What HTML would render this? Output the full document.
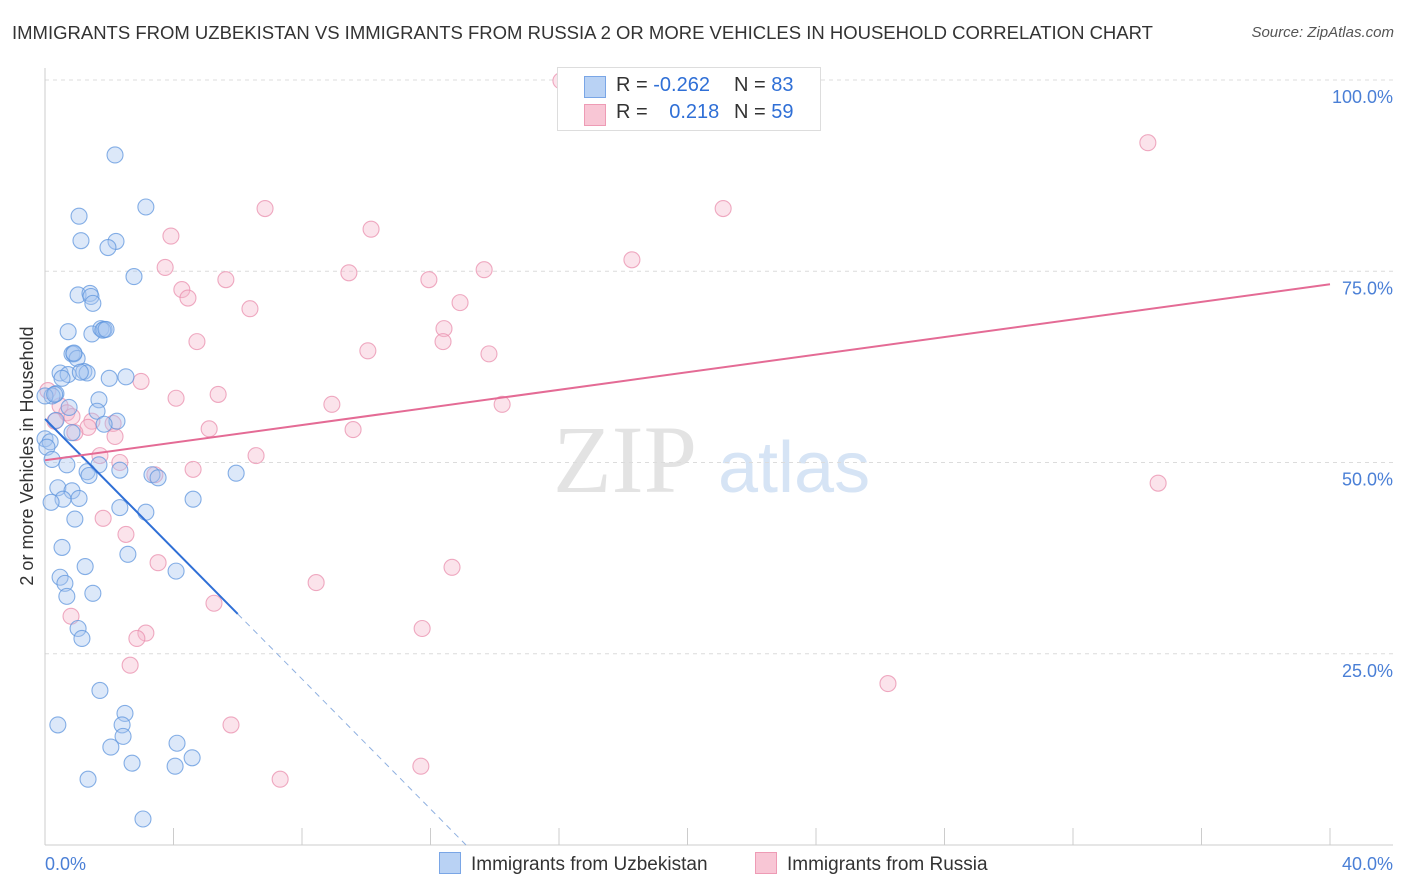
<!DOCTYPE html>
<html><head><meta charset="utf-8"><style>
body{margin:0;background:#fff;font-family:"Liberation Sans",sans-serif;}
#wrap{position:relative;width:1406px;height:892px;overflow:hidden;}
.t{position:absolute;white-space:nowrap;}
</style></head><body>
<div id="wrap">
<div class="t" style="left:12px;top:22px;font-size:18.5px;color:#333;">IMMIGRANTS FROM UZBEKISTAN VS IMMIGRANTS FROM RUSSIA 2 OR MORE VEHICLES IN HOUSEHOLD CORRELATION CHART</div>
<div class="t" style="right:12px;top:24px;font-size:15px;font-style:italic;color:#555;">Source: ZipAtlas.com</div>
<svg id="svg" width="1406" height="892" style="position:absolute;left:0;top:0"></svg>
</div>
<script>
const blueX=[2.18,3.14,1.06,1.12,2.21,1.96,2.77,1.03,1.40,1.43,1.49,0.72,1.46,1.74,1.84,0.84,0.90,1.00,1.21,1.31,0.47,0.72,0.53,2.52,0.34,0.22,0,1.68,0.75,1.62,2.24,1.84,0.34,0,0.84,0.16,0.06,0.22,0.68,1.68,1.31,2.33,1.37,3.33,3.52,5.95,0.40,0.84,1.06,0.56,4.61,0.19,2.33,3.14,0.93,0.53,2.58,1.25,0.47,4.08,0.62,0.68,1.49,1.03,1.15,1.71,0.40,2.49,2.40,2.43,2.05,4.11,4.58,2.71,4.05,1.34,3.05,1.8,1.9,0.3,0.9,1.1,2.0];
const blueY=[90.2,83.4,82.2,79.0,78.9,78.1,74.3,71.9,72.1,71.7,70.8,67.1,66.8,67.5,67.4,64.2,64.2,63.6,61.9,61.7,61.7,61.5,61.0,61.2,59.0,58.7,58.7,58.2,57.2,56.7,55.4,55.0,55.5,53.1,53.9,52.7,52.0,50.4,49.7,49.7,48.8,49.0,48.3,48.4,48.0,48.6,46.7,46.3,45.3,45.2,45.2,44.8,44.1,43.5,42.6,38.9,38.0,36.4,35.0,35.8,34.2,32.5,32.9,28.3,27.0,20.2,15.7,17.2,15.7,14.2,12.8,13.3,11.4,10.7,10.3,8.6,3.4,67.3,67.4,58.9,64.3,61.8,61.0];
const pinkX=[16.06,34.33,6.85,21.11,10.15,3.92,3.74,9.46,5.63,13.67,11.95,4.26,4.45,12.92,6.38,12.42,12.39,4.73,10.05,13.82,18.27,2.99,4.08,5.39,8.93,14.23,0.47,0.68,0.84,1.46,2.12,0.31,1.34,5.11,9.59,2.18,0.93,1.71,2.33,6.57,4.61,3.42,34.65,1.81,2.52,3.52,12.67,8.44,5.26,0.81,3.14,2.86,11.74,2.65,26.24,5.79,11.70,7.32,0.09];
const pinkY=[99.9,91.8,83.2,83.2,80.5,79.6,75.5,74.8,73.9,75.2,73.9,72.6,71.5,70.9,70.1,67.5,65.8,65.8,64.6,64.2,76.5,60.6,58.4,58.9,57.6,57.6,57.4,56.5,56.0,55.4,55.1,55.4,54.6,54.4,54.3,53.4,53.9,50.9,50.0,50.9,49.1,48.4,47.3,42.7,40.6,36.9,36.3,34.3,31.6,29.9,27.7,27.0,28.3,23.5,21.1,15.7,10.3,8.6,59.4];
const blueTrend=[55.7,-4.25]; // intercept, slope
const pinkTrend=[50.3,0.575];
const yTicks=[25,50,75,100];
const yTickLabels=["25.0%","50.0%","75.0%","100.0%"];
const xTicks=[0,4,8,12,16,20,24,28,32,36,40];

const X0=45,X1=1330,Y0=845,Y100=80;
const sx=v=>X0+(X1-X0)*v/40;
const sy=v=>Y0-(Y0-Y100)*v/100;
const svg=document.getElementById('svg');
const NS='http://www.w3.org/2000/svg';
function mk(tag,attrs,parent){const e=document.createElementNS(NS,tag);for(const k in attrs)e.setAttribute(k,attrs[k]);(parent||svg).appendChild(e);return e;}

const wm=mk('text',{x:553,y:492,'font-size':96,'font-family':'Liberation Serif,serif',fill:'#e3e3e3'});
wm.textContent='ZIP';


const wm2=mk('text',{x:718,y:492,'font-size':72,'font-family':'Liberation Sans,sans-serif',fill:'#d6e4f5'});
wm2.textContent='atlas';



yTicks.forEach((v,i)=>{
  const g=mk('line',{x1:X0,x2:1393,y1:sy(v),y2:sy(v),stroke:'#dcdcdc','stroke-dasharray':'4,4'});
  
  
  const t=mk('text',{x:1393,y:sy(v)+23,'text-anchor':'end','font-size':18,fill:'#4a7fd6'});
  t.textContent=yTickLabels[i];
  
  
});
const ax=mk('line',{x1:X0,x2:1393,y1:Y0,y2:Y0,stroke:'#ccc'});


const ay=mk('line',{x1:X0,x2:X0,y1:68,y2:Y0,stroke:'#ccc'});


xTicks.forEach(v=>{
  const l=mk('line',{x1:sx(v),x2:sx(v),y1:Y0-17,y2:Y0,stroke:'#ccc'});
  
  
});
const xl0=mk('text',{x:45,y:870,'font-size':18,fill:'#4a7fd6'});xl0.textContent='0.0%';


const xl1=mk('text',{x:1393,y:870,'font-size':18,fill:'#4a7fd6','text-anchor':'end'});xl1.textContent='40.0%';


const yt=mk('text',{x:0,y:0,'font-size':18,fill:'#333','text-anchor':'middle',transform:'translate(33,456) rotate(-90)'});
yt.textContent='2 or more Vehicles in Household';



function pts(xs,ys,fill,stroke,name){
  xs.forEach((x,i)=>{
    const c=mk('circle',{cx:sx(x),cy:sy(ys[i]),r:8,fill:fill,'fill-opacity':0.4,stroke:stroke,'stroke-width':1.1,'stroke-opacity':0.75});
    
    
  });
}
pts(pinkX,pinkY,'#f6b8cc','#ea8fae','point-russia');
pts(blueX,blueY,'#a8c6f0','#5f95de','point-uzbekistan');

const bEnd=6, bZero=-blueTrend[0]/blueTrend[1];
const bl=mk('line',{x1:sx(0),y1:sy(blueTrend[0]),x2:sx(bEnd),y2:sy(blueTrend[0]+blueTrend[1]*bEnd),stroke:'#2f6fd6','stroke-width':2});


const bd=mk('line',{x1:sx(bEnd),y1:sy(blueTrend[0]+blueTrend[1]*bEnd),x2:sx(bZero),y2:sy(0),stroke:'#8fb0e0','stroke-width':1,'stroke-dasharray':'6,5'});


const pl=mk('line',{x1:sx(0),y1:sy(pinkTrend[0]),x2:sx(40),y2:sy(pinkTrend[0]+pinkTrend[1]*40),stroke:'#e46b95','stroke-width':2});


</script>
<div class="t" style="left:557px;top:67px;width:262px;height:62px;border:1px solid #ddd;background:#fff;font-size:20px;color:#333;">
 <div style="position:absolute;left:26px;top:8px;width:20px;height:20px;background:#b9d2f4;border:1px solid #7aa6e6;"></div>
 <div style="position:absolute;left:58px;top:6px;">R = <span style="color:#2f6fd6">-0.262</span></div>
 <div style="position:absolute;left:176px;top:6px;">N = <span style="color:#2f6fd6">83</span></div>
 <div style="position:absolute;left:26px;top:36px;width:20px;height:20px;background:#f8c6d5;border:1px solid #ee9bb5;"></div>
 <div style="position:absolute;left:58px;top:33px;">R = <span style="color:#2f6fd6;margin-left:16px">0.218</span></div>
 <div style="position:absolute;left:176px;top:33px;">N = <span style="color:#2f6fd6">59</span></div>
</div>
<div class="t" style="left:439px;top:852px;font-size:19px;color:#333;">
 <span style="display:inline-block;width:20px;height:20px;background:#b9d2f4;border:1px solid #7aa6e6;vertical-align:-4px;margin-right:10px"></span>Immigrants from Uzbekistan</div>
<div class="t" style="left:755px;top:852px;font-size:19px;color:#333;">
 <span style="display:inline-block;width:20px;height:20px;background:#f8c6d5;border:1px solid #ee9bb5;vertical-align:-4px;margin-right:10px"></span>Immigrants from Russia</div>
</body></html>
